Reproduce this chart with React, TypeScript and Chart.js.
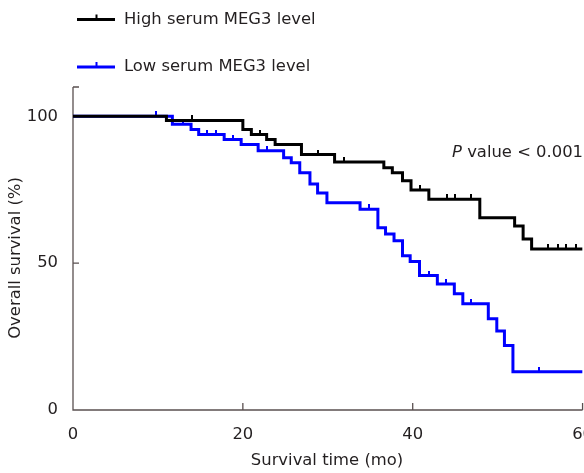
import React, { useEffect, useRef } from "react";
import { Chart, registerables } from "chart.js";

Chart.register(...registerables);

// ---------- data ----------
const xTickValues = [0, 20, 40, 60];
const yTickValues = [0, 50, 100];

const highLabel = "High serum MEG3 level";
const lowLabel = "Low serum MEG3 level";

// High serum MEG3: event times (months) and survival (%) after each step
const highTimes = [0, 11, 20, 21, 22.8, 23.8, 26.9, 30.8, 36.6, 37.6, 38.8, 39.8, 41.9, 47.9, 52.0, 53.0, 54.0, 60];
const highSurv = [100, 98.6, 95.5, 93.8, 92.1, 90.4, 87.0, 84.5, 82.5, 80.8, 78.1, 74.9, 71.8, 65.5, 62.7, 58.2, 54.8, 54.8];
const highCensor = [14, 22, 28.8, 31.9, 40.9, 44, 45, 46.9, 55.9, 57.1, 58, 59.2];

// Low serum MEG3
const lowTimes = [0, 11.7, 13.9, 14.8, 17.8, 19.8, 21.8, 24.8, 25.7, 26.7, 27.9, 28.8, 29.9, 33.8, 35.9, 36.8, 37.8, 38.8, 39.7, 40.8, 42.9, 44.9, 45.9, 48.9, 49.9, 50.8, 51.8, 60];
const lowSurv = [100, 97.3, 95.5, 93.8, 92.1, 90.4, 88.3, 85.9, 84.2, 80.8, 77.0, 73.9, 70.6, 68.4, 62.1, 59.9, 57.6, 52.5, 50.6, 45.8, 42.9, 39.6, 36.2, 31.1, 26.9, 22.0, 13.0, 13.0];
const lowCensor = [9.8, 12.9, 15.8, 16.8, 18.8, 22.9, 34.9, 41.9, 43.9, 46.9, 54.9];

// ---------- styles ----------
const HIGH_COLOR = "#000000";
const LOW_COLOR = "#0000ff";
const AXIS_COLOR = "#5a5050";
const TEXT_COLOR = "#231f20";
const FONT = "'DejaVu Sans', Verdana, sans-serif";
const TXT = 16.4;

function levelAt(times: number[], surv: number[], t: number) {
  let v = surv[0];
  for (let i = 0; i < times.length; i++) {
    if (times[i] <= t) v = surv[i];
  }
  return v;
}

function tickImage(color: string) {
  const c = document.createElement("canvas");
  c.width = 2;
  c.height = 10;
  const ctx = c.getContext("2d")!;
  ctx.fillStyle = color;
  ctx.fillRect(0, 0, 2, 5);
  return c;
}

const decor = {
  id: "decor",
  beforeDatasetsDraw(chart: any) {
    const { ctx, chartArea: a, scales } = chart;
    const x = scales.x;
    const y = scales.y;
    ctx.save();
    ctx.strokeStyle = AXIS_COLOR;
    ctx.lineWidth = 1.3;
    ctx.beginPath();
    ctx.moveTo(a.left, a.top);
    ctx.lineTo(a.left, a.bottom);
    ctx.lineTo(a.right, a.bottom);
    for (const v of xTickValues) {
      const px = x.getPixelForValue(v);
      ctx.moveTo(px, a.bottom);
      ctx.lineTo(px, a.bottom - 7);
    }
    for (const v of yTickValues) {
      const py = y.getPixelForValue(v);
      ctx.moveTo(a.left, py);
      ctx.lineTo(a.left + 6, py);
    }
    ctx.moveTo(a.left, a.top);
    ctx.lineTo(a.left + 6, a.top);
    ctx.stroke();
    ctx.restore();
  },
  afterDraw(chart: any) {
    const { ctx } = chart;
    ctx.save();
    // legend
    const items = [
      { label: highLabel, color: HIGH_COLOR, y: 19.5 },
      { label: lowLabel, color: LOW_COLOR, y: 67 },
    ];
    for (const it of items) {
      ctx.strokeStyle = it.color;
      ctx.lineWidth = 3;
      ctx.beginPath();
      ctx.moveTo(77, it.y);
      ctx.lineTo(115, it.y);
      ctx.stroke();
      ctx.lineWidth = 2;
      ctx.beginPath();
      ctx.moveTo(96.5, it.y);
      ctx.lineTo(96.5, it.y - 5);
      ctx.stroke();
      ctx.fillStyle = TEXT_COLOR;
      ctx.font = `${TXT}px ${FONT}`;
      ctx.textAlign = "left";
      ctx.textBaseline = "middle";
      ctx.fillText(it.label, 124, it.y);
    }
    // P value
    ctx.font = `${TXT}px ${FONT}`;
    ctx.textAlign = "right";
    ctx.textBaseline = "middle";
    const rest = " value < 0.001";
    const restW = ctx.measureText(rest).width;
    ctx.fillText(rest, 583, 153);
    ctx.font = `italic ${TXT}px ${FONT}`;
    ctx.fillText("P", 583 - restW, 153);
    // axis titles
    ctx.font = `${TXT}px ${FONT}`;
    ctx.textAlign = "center";
    ctx.textBaseline = "middle";
    ctx.fillText("Survival time (mo)", 327, 461);
    ctx.translate(16, 258);
    ctx.rotate(-Math.PI / 2);
    ctx.fillText("Overall survival (%)", 0, 0);
    ctx.restore();
  },
};

export default function App() {
  const ref = useRef<HTMLCanvasElement | null>(null);

  useEffect(() => {
    const canvas = ref.current;
    if (!canvas) return;
    const highTick = tickImage(HIGH_COLOR);
    const lowTick = tickImage(LOW_COLOR);
    const chart = new Chart(canvas, {
      type: "line",
      data: {
        datasets: [
          {
            label: highLabel,
            data: highTimes.map((t, i) => ({ x: t, y: highSurv[i] })),
            borderColor: HIGH_COLOR,
            borderWidth: 3,
            stepped: true,
            pointRadius: 0,
            fill: false,
          },
          {
            label: lowLabel,
            data: lowTimes.map((t, i) => ({ x: t, y: lowSurv[i] })),
            borderColor: LOW_COLOR,
            borderWidth: 3,
            stepped: true,
            pointRadius: 0,
            fill: false,
          },
          {
            label: "high censored",
            data: highCensor.map((t) => ({ x: t, y: levelAt(highTimes, highSurv, t) })),
            showLine: false,
            pointStyle: highTick as any,
            pointRadius: 5,
            borderColor: HIGH_COLOR,
            backgroundColor: HIGH_COLOR,
          },
          {
            label: "low censored",
            data: lowCensor.map((t) => ({ x: t, y: levelAt(lowTimes, lowSurv, t) })),
            showLine: false,
            pointStyle: lowTick as any,
            pointRadius: 5,
            borderColor: LOW_COLOR,
            backgroundColor: LOW_COLOR,
          },
        ],
      },
      options: {
        responsive: false,
        animation: false,
        devicePixelRatio: 1,
        layout: { padding: { top: 87, right: 13, left: 0, bottom: 0 } },
        plugins: {
          legend: { display: false },
          tooltip: { enabled: false },
        },
        scales: {
          x: {
            type: "linear",
            min: 0,
            max: 60,
            grid: { display: false },
            border: { display: false },
            afterBuildTicks: (s: any) => {
              s.ticks = xTickValues.map((v) => ({ value: v }));
            },
            afterFit: (s: any) => {
              s.height = 63;
            },
            ticks: {
              color: TEXT_COLOR,
              font: { family: FONT, size: TXT },
              padding: 7,
              maxRotation: 0,
            },
          },
          y: {
            type: "linear",
            min: 0,
            max: 110,
            grid: { display: false },
            border: { display: false },
            afterBuildTicks: (s: any) => {
              s.ticks = yTickValues.map((v) => ({ value: v }));
            },
            afterFit: (s: any) => {
              s.width = 73;
            },
            ticks: {
              color: TEXT_COLOR,
              font: { family: FONT, size: TXT },
              padding: 7,
            },
          },
        },
      },
      plugins: [decor],
    });
    return () => chart.destroy();
  }, []);

  return (
    <div
      style={{
        position: "fixed",
        left: 0,
        top: 0,
        width: 584,
        height: 473,
        overflow: "hidden",
        background: "#ffffff",
      }}
    >
      <canvas ref={ref} width={600} height={473} style={{ display: "block" }} />
    </div>
  );
}
